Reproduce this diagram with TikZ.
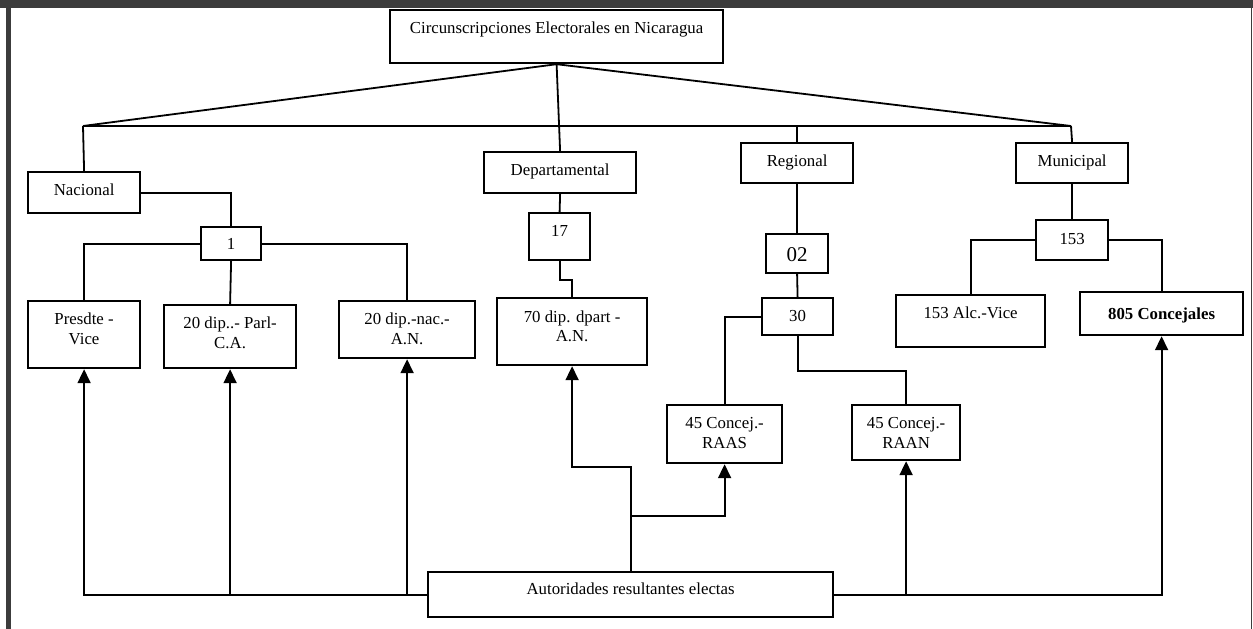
\documentclass[tikz,border=0pt]{standalone}
\usepackage{fontspec}
\setmainfont{Liberation Serif}
\usetikzlibrary{arrows.meta}
\definecolor{framegray}{HTML}{3C3C3C}
\begin{document}
\begin{tikzpicture}[x=1pt,y=-1pt,
  box/.style={draw, line width=2.2pt, inner sep=0pt, anchor=north west, align=center,
    font=\fontsize{16.8}{19.5}\selectfont, text height=23.5pt},
  twoline/.style={text height=43pt},
  link/.style={line width=1.8pt},
  feed/.style={line width=1.8pt, -{Triangle[length=14pt,width=13pt]}}]

% page and frame
\fill[white] (0,0) rectangle (1253,629);
\useasboundingbox (0,0) rectangle (1253,629);
\fill[framegray] (0,0) rectangle (1253,8);
\fill[framegray] (6,0) rectangle (11,629);
\draw[framegray, line width=1.2pt] (1251.5,8) -- (1251.5,629);

% boxes
\node[box, minimum width=333pt, text depth=29.5pt] (top) at (389,9) {Circunscripciones Electorales en Nicaragua};
\node[box, minimum width=112pt, text depth=17.5pt] (nac) at (27,171) {Nacional};
\node[box, minimum width=152pt, text depth=17.5pt] (dep) at (483,151) {Departamental};
\node[box, minimum width=112pt, text depth=16.5pt] (reg) at (740,142) {Regional};
\node[box, minimum width=112pt, text depth=16.5pt] (mun) at (1015,142) {Municipal};

\node[box, minimum width=60pt, text height=22pt, text depth=11pt] (one) at (200,226) {1};
\node[box, twoline, minimum width=112pt, text depth=24pt] (pres) at (27,300) {Presdte -\\Vice};
\node[box, twoline, minimum width=132pt, text depth=20pt] (parl) at (163,304) {20 dip..- Parl-\\C.A.};
\node[box, twoline, minimum width=136pt, text depth=14pt] (dipnac) at (338,300) {20 dip.-nac.-\\A.N.};

\node[box, minimum width=61pt, text depth=23.5pt] (seventeen) at (528,212) {17};
\node[box, twoline, minimum width=150pt, text height=43.5pt, text depth=23.5pt] (dipdep) at (496,297) {70 dip. dpart -\\A.N.};

\node[box, minimum width=62pt, text height=27pt, text depth=12pt, font=\fontsize{21}{24}\selectfont] (zerotwo) at (765,233) {02};
\node[box, minimum width=71pt, text depth=13.5pt] (thirty) at (761,297) {30};
\node[box, twoline, minimum width=115pt, text depth=15pt] (raas) at (666,404) {45 Concej.-\\RAAS};
\node[box, twoline, minimum width=108pt, text depth=12pt] (raan) at (851,404) {45 Concej.-\\RAAN};

\node[box, minimum width=72pt, text height=24pt, text depth=16pt] (onefivethree) at (1035,219) {153};
\node[box, minimum width=149pt, text depth=28.5pt] (alc) at (895,294) {153 Alc.-Vice};
\node[box, minimum width=163pt, text height=27pt, text depth=16pt] (conc) at (1079,291) {\bfseries 805 Concejales};

\node[box, minimum width=405pt, text height=22pt, text depth=23pt] (aut) at (427,571) {Autoridades resultantes electas};

% branching from the title box
\coordinate (barL) at (83,126);
\coordinate (barR) at (1071,126);
\draw[link] (top.south) -- (barL);
\draw[link] (top.south) -- (barR);
\draw[link] (top.south) -- (dep.north);
\draw[link] (barL) -- (barR);
\draw[link] (barL) -- (nac.north);
\draw[link] (reg.north |- barL) -- (reg.north);
\draw[link] (barR) -- (mun.north);

% national branch
\draw[link] (nac.east) -| (one.north);
\draw[link] (one.west) -| (pres.north);
\draw[link] (one.east) -| (dipnac.north);
\draw[link] (one.south) -- (parl.north);

% departmental branch
\draw[link] (dep.south) -- (seventeen.north);
\draw[link] (seventeen.south) -- ++(0,19) -| (dipdep.north);

% regional branch
\draw[link] (reg.south) -- (zerotwo.north);
\draw[link] (zerotwo.south) -- (thirty.north);
\draw[link] (thirty.west) -| (raas.north);
\draw[link] (thirty.south) -- ++(0,35) -| (raan.north);

% municipal branch
\draw[link] (mun.south) -- (onefivethree.north);
\draw[link] (onefivethree.west) -| (alc.north);
\draw[link] (onefivethree.east) -| (conc.north);

% elected authorities feeding the offices
\draw[feed] (aut.west) -| (pres.south);
\draw[feed] (aut.west) -| (parl.south);
\draw[feed] (aut.west) -| (dipnac.south);
\draw[feed] (aut.north) -- ++(0,-104) -| (dipdep.south);
\draw[feed] (aut.north) -- ++(0,-55) -| (raas.south);
\draw[feed] (aut.east) -| (raan.south);
\draw[feed] (aut.east) -| (conc.south);
\end{tikzpicture}
\end{document}
